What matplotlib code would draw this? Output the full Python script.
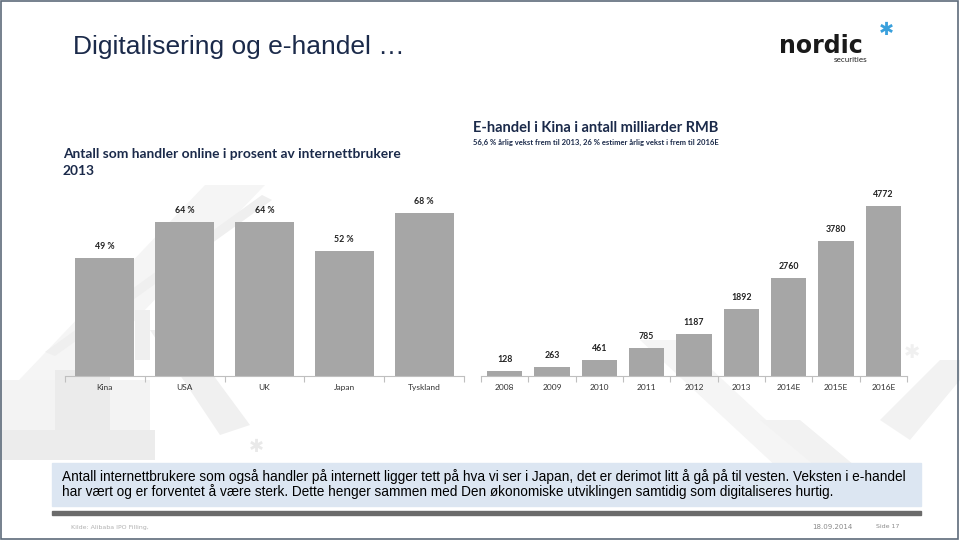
import matplotlib.pyplot as plt
from matplotlib.patches import Rectangle, Polygon
import numpy as np

# left chart: share of internet users shopping online, 2013
countries = ['Kina', 'USA', 'UK', 'Japan', 'Tyskland']
share = [49, 64, 64, 52, 68]
share_labels = ['49 %', '64 %', '64 %', '52 %', '68 %']

# right chart: e-commerce in China, billion RMB
years = ['2008', '2009', '2010', '2011', '2012', '2013', '2014E', '2015E', '2016E']
rmb = [128, 263, 461, 785, 1187, 1892, 2760, 3780, 4772]

W, H = 960, 540
NAVY = '#1b2a4a'
BAR = '#a6a6a6'


def box(x0, y0, x1, y1):
    # pixel box (top-left origin) -> figure fraction rect
    return [x0 / W, 1 - y1 / H, (x1 - x0) / W, (y1 - y0) / H]


def fx(x):
    return x / W


def fy(y):
    return 1 - y / H


def fig_poly(pts, color, z=-2):
    fig.patches.append(Polygon([(fx(a), fy(b)) for a, b in pts], closed=True,
                               transform=fig.transFigure, color=color, zorder=z,
                               linewidth=0))


fig = plt.figure(figsize=(9.6, 5.4), dpi=100)
fig.patch.set_facecolor('white')

# faint decorative background shapes
fig_poly([(205, 185), (265, 185), (20, 440), (0, 440), (0, 400)], '#f5f5f5')
fig_poly([(45, 352), (55, 356), (272, 200), (262, 195)], '#efefef')
fig_poly([(150, 330), (180, 330), (250, 425), (220, 435)], '#f0f0f0')
fig_poly([(0, 380), (150, 380), (150, 460), (0, 460)], '#f3f3f3')
fig_poly([(55, 370), (110, 370), (110, 460), (55, 460)], '#ebebeb')
fig_poly([(0, 430), (155, 430), (155, 460), (0, 460)], '#ececec')
fig_poly([(135, 310), (150, 310), (150, 360), (135, 360)], '#efefef')
fig_poly([(640, 340), (680, 340), (820, 470), (780, 470)], '#f5f5f5')
fig_poly([(760, 420), (800, 420), (860, 470), (820, 470)], '#f2f2f2')
fig_poly([(880, 420), (940, 360), (960, 360), (960, 380), (910, 440)], '#f2f2f2')
fig.text(fx(912), fy(352), '\u2731', fontsize=14, color='#f0f0f0', ha='center', va='center', zorder=-1)
fig.text(fx(256), fy(447), '\u2731', fontsize=13, color='#e9e9e9', ha='center', va='center', zorder=-1)

# slide frame
fig.patches.append(Rectangle((0.001, 0.002), 0.997, 0.996, transform=fig.transFigure,
                             fill=False, edgecolor='#5d6b7a', linewidth=1.2, zorder=5))

# main title
fig.text(fx(73), fy(47), 'Digitalisering og e-handel \u2026', fontsize=19,
         family='Liberation Sans', color=NAVY, va='center', ha='left')

# logo
fig.text(fx(779), fy(46), 'nordic', fontsize=17, family='DejaVu Sans',
         fontweight='bold', color='#1a1a1a', va='center', ha='left')
fig.text(fx(834), fy(60), 'securities', fontsize=5, family='DejaVu Sans',
         color='#1a1a1a', va='center', ha='left')
fig.text(fx(886), fy(30), '\u2731', fontsize=13, family='DejaVu Sans',
         color='#3aa0dc', va='center', ha='center')

# chart titles
fig.text(fx(63), fy(154), 'Antall som handler online i prosent av internettbrukere',
         fontsize=9.9, family='Lato', fontweight='bold', color=NAVY, va='center')
fig.text(fx(63), fy(171), '2013', fontsize=9.9, family='Lato', fontweight='bold',
         color=NAVY, va='center')
fig.text(fx(473), fy(128), 'E-handel i Kina i antall milliarder RMB',
         fontsize=10.5, family='Lato', fontweight='bold', color=NAVY, va='center')
fig.text(fx(473), fy(142), '56,6 % årlig vekst frem til 2013, 26 % estimer årlig vekst i frem til 2016E',
         fontsize=5.5, family='Lato', fontweight='bold', color=NAVY, va='center')


def bar_chart(ax, cats, vals, labels, top):
    x = np.arange(len(cats))
    bars = ax.bar(x, vals, width=0.74, color=BAR, zorder=2)
    ax.bar_label(bars, labels=labels, padding=5, fontsize=6.3, family='Lato',
                 fontweight='bold', color='#222222')
    ax.set_xlim(-0.5, len(cats) - 0.5)
    ax.set_ylim(0, top)
    ax.set_xticks(x)
    ax.set_xticklabels(cats, fontsize=6, family='Lato', color='#333333')
    ax.set_xticks(np.arange(-0.5, len(cats)), minor=True)
    ax.tick_params(axis='x', which='major', length=0, pad=6)
    ax.tick_params(axis='x', which='minor', length=4, color='#bfbfbf', width=0.8)
    ax.set_yticks([])
    for s in ['top', 'right', 'left']:
        ax.spines[s].set_visible(False)
    ax.spines['bottom'].set_color('#bfbfbf')
    ax.spines['bottom'].set_linewidth(0.8)
    ax.patch.set_alpha(0)


ax1 = fig.add_axes(box(65, 196, 464, 376))
bar_chart(ax1, countries, share, share_labels, 75)

ax2 = fig.add_axes(box(481, 198, 907, 376))
bar_chart(ax2, years, rmb, [str(v) for v in rmb], 5000)

# comment box
fig.patches.append(Rectangle((fx(52), fy(506)), fx(921) - fx(52), fy(463) - fy(506),
                             transform=fig.transFigure, color='#dce6f2', zorder=1))
fig.text(fx(62), fy(477),
         'Antall internettbrukere som også handler på internett ligger tett på hva vi ser i Japan, '
         'det er derimot litt å gå på til vesten. Veksten i e-handel',
         fontsize=9.8, family='Liberation Sans', color='black', va='center', zorder=3)
fig.text(fx(62), fy(492),
         'har vært og er forventet å være sterk. Dette henger sammen med Den økonomiske '
         'utviklingen samtidig som digitaliseres hurtig.',
         fontsize=9.8, family='Liberation Sans', color='black', va='center', zorder=3)
fig.patches.append(Rectangle((fx(52), fy(515)), fx(921) - fx(52), fy(511) - fy(515),
                             transform=fig.transFigure, color='#6b6b6b', zorder=1))

# footer
fig.text(fx(71), fy(527), 'Kilde: Alibaba IPO Filling,', fontsize=4.5, color='#b0b0b0', va='center')
fig.text(fx(812), fy(527), '18.09.2014', fontsize=5, color='#8a8a8a', va='center')
fig.text(fx(876), fy(527), 'Side 17', fontsize=4.5, color='#8a8a8a', va='center')

fig.savefig('out.png', dpi=100)
